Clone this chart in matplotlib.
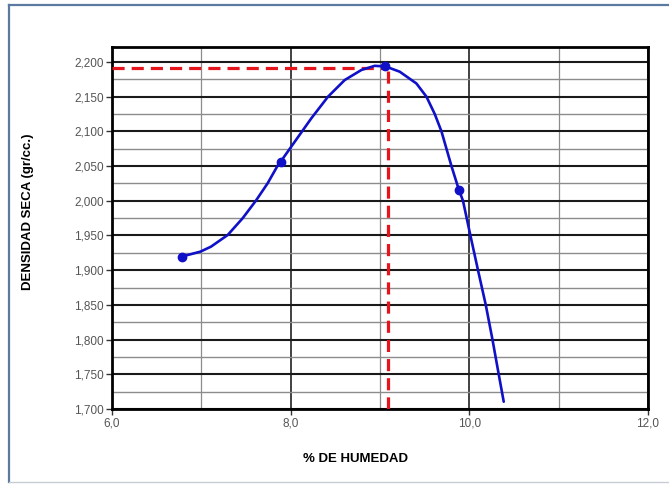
import numpy as np
import matplotlib
matplotlib.use("Agg")
import matplotlib.pyplot as plt
from matplotlib.ticker import MultipleLocator, FuncFormatter
from matplotlib.lines import Line2D

plt.rcParams['font.family'] = ['Liberation Sans', 'DejaVu Sans']

# ensayo: puntos medidos
humedad = [6.78, 7.89, 9.06, 9.88]
densidad = [1.919, 2.056, 2.194, 2.016]

# curva de compactacion
curva_x = [6.776, 6.989, 7.108, 7.295, 7.462, 7.611, 7.742, 7.854, 7.888,
           8.045, 8.232, 8.418, 8.605, 8.792, 8.941, 9.064, 9.221, 9.408,
           9.520, 9.613, 9.688, 9.744, 9.800, 9.881, 9.929, 10.012, 10.097,
           10.184, 10.259, 10.329, 10.385]
curva_y = [1.9195, 1.9267, 1.9339, 1.9507, 1.9748, 2.0002, 2.0252, 2.0506,
           2.0564, 2.085, 2.119, 2.150, 2.174, 2.1885, 2.1945, 2.1935, 2.186,
           2.169, 2.150, 2.125, 2.100, 2.075, 2.050, 2.0166, 2.000, 1.950,
           1.900, 1.850, 1.800, 1.750, 1.7105]

# optimo contenido de humedad / maxima densidad seca
hum_opt = 9.09
dens_max = 2.191


def coma(fmt):
    return FuncFormatter(lambda v, p: fmt.format(v).replace('.', ','))


W, H = 669, 484
fig = plt.figure(figsize=(W / 100, H / 100), dpi=100)
ax = fig.add_axes([112 / W, 1 - 409 / H, (648 - 112) / W, (409 - 47) / H])

ax.set_xlim(6.0, 12.0)
ax.set_ylim(1.700, 2.2216)

ax.xaxis.set_major_locator(MultipleLocator(2.0))
ax.xaxis.set_minor_locator(MultipleLocator(1.0))
ax.yaxis.set_major_locator(MultipleLocator(0.05))
ax.yaxis.set_minor_locator(MultipleLocator(0.025))
ax.xaxis.set_major_formatter(coma('{:.1f}'))
ax.yaxis.set_major_formatter(coma('{:.3f}'))

ax.grid(which='major', axis='y', color='#1a1a1a', lw=1.5, zorder=0)
ax.grid(which='minor', axis='y', color='#8c8c8c', lw=1.0, zorder=0)
ax.grid(which='major', axis='x', color='#333333', lw=1.3, zorder=0)
ax.grid(which='minor', axis='x', color='#8c8c8c', lw=0.9, zorder=0)

ax.tick_params(which='major', direction='out', length=4, width=1.0,
               color='#333333', labelsize=8.5, labelcolor='#555555', pad=2)
ax.tick_params(which='minor', length=0)
for s in ax.spines.values():
    s.set_linewidth(2.0)
    s.set_color('black')

# lineas del optimo
ax.plot([6.0, hum_opt], [dens_max, dens_max], color='#e8141c', lw=2.3,
        dashes=(3.8, 2.2), zorder=3)
ax.plot([hum_opt, hum_opt], [1.700, dens_max], color='#e8141c', lw=2.3,
        dashes=(3.8, 2.2), zorder=3)

ax.plot(curva_x, curva_y, color='#1010c8', lw=1.9, zorder=4,
        solid_joinstyle='round', solid_capstyle='round')
ax.plot(humedad, densidad, 'o', color='#1010c8', ms=6, zorder=5)

fig.text(355 / W, 1 - 459 / H, '% DE HUMEDAD', fontsize=9.5,
         fontweight='bold', ha='center', va='center')
fig.text(27.5 / W, 1 - 212 / H, 'DENSIDAD SECA (gr/cc.)', fontsize=9.5,
         fontweight='bold', ha='center', va='center', rotation=90)

# marco exterior
borde = '#5a7aa0'
fig.add_artist(Line2D([9 / W, 9 / W], [1 - 5 / H, 1 - 482 / H],
                      transform=fig.transFigure, color=borde, lw=1.6))
fig.add_artist(Line2D([9 / W, 1.0], [1 - 5 / H, 1 - 5 / H],
                      transform=fig.transFigure, color=borde, lw=1.6))
fig.add_artist(Line2D([9 / W, 1.0], [1 - 482 / H, 1 - 482 / H],
                      transform=fig.transFigure, color='#c8ccd4', lw=1.0))

fig.savefig('out.png', dpi=100, facecolor='white')
